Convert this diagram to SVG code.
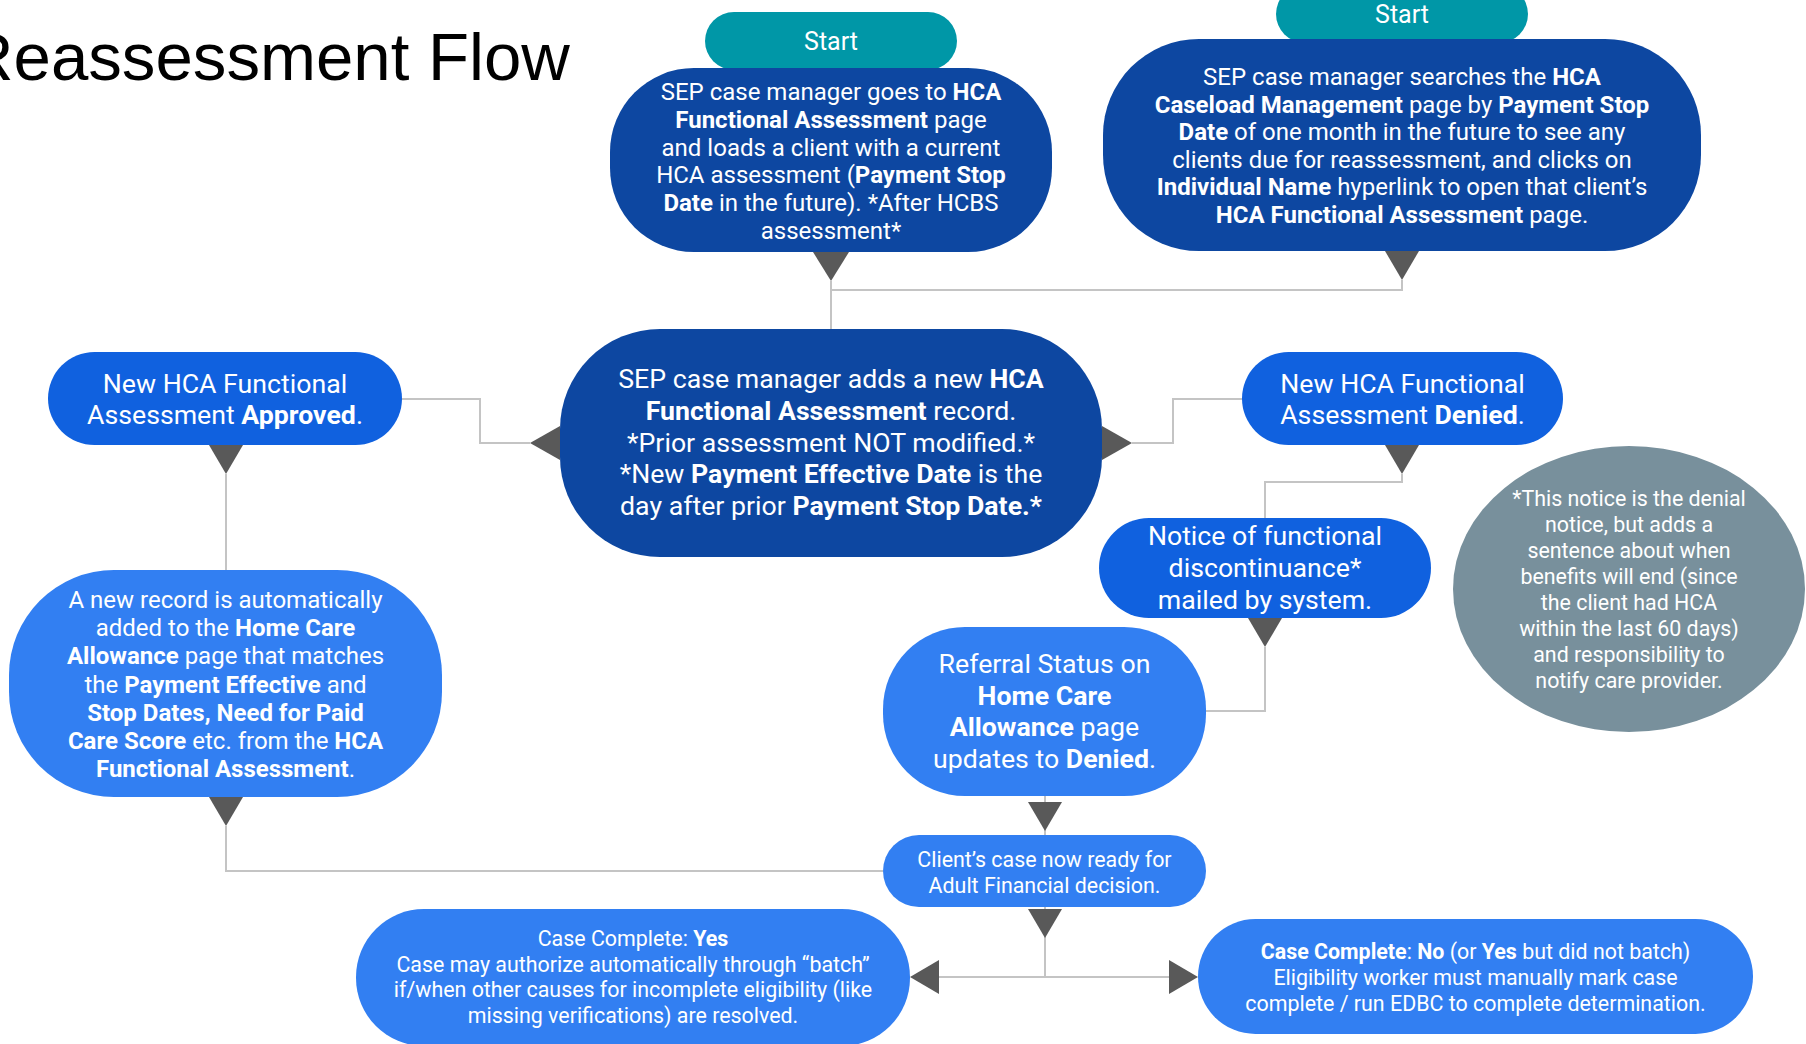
<svg xmlns="http://www.w3.org/2000/svg" width="1806" height="1044" viewBox="0 0 1806 1044">
  <style>
    .t { font-family: Roboto, "Noto Sans", "Liberation Sans", sans-serif; fill: #ffffff; text-anchor: middle; }
    .b { font-weight: 700; }
    .s24 { font-size: 24px; }
    .s27 { font-size: 26.7px; }
    .s21 { font-size: 21.4px; }
    .teal { fill: #0097a7; }
    .dark { fill: #0d47a1; }
    .mid { fill: #1061df; }
    .light { fill: #327ff2; }
    .note { fill: #78909c; }
    .wire { fill: none; stroke: #c4c4c4; stroke-width: 2; }
    .head { fill: #595959; }
  </style>

  <!-- title -->
  <text x="-35" y="80" font-family="'Liberation Sans', Arial, sans-serif" font-size="67.2" fill="#000000">Reassessment Flow</text>

  <!-- connectors -->
  <g id="connectors">
    <polyline class="wire" points="831,281 831,329"/>
    <polyline class="wire" points="831,290 1402,290 1402,280"/>
    <polyline class="wire" points="402,399 480,399 480,443 530,443"/>
    <polyline class="wire" points="1132,443 1173,443 1173,399 1242,399"/>
    <polyline class="wire" points="226,474 226,571"/>
    <polyline class="wire" points="226,826 226,871 883,871"/>
    <polyline class="wire" points="1402,474 1402,482 1265,482 1265,518"/>
    <polyline class="wire" points="1265,647 1265,711 1206,711"/>
    <polyline class="wire" points="1045,796 1045,835"/>
    <polyline class="wire" points="1045,907 1045,977"/>
    <polyline class="wire" points="939,977 1169,977"/>

    <polygon class="head" points="813,252 849,252 831,281"/>
    <polygon class="head" points="1385,251 1419,251 1402,280"/>
    <polygon class="head" points="560,426 560,460 530,443"/>
    <polygon class="head" points="1102,426 1102,460 1132,443"/>
    <polygon class="head" points="209,445 243,445 226,474"/>
    <polygon class="head" points="209,797 243,797 226,826"/>
    <polygon class="head" points="1385,445 1419,445 1402,474"/>
    <polygon class="head" points="1248,618 1282,618 1265,647"/>
    <polygon class="head" points="1028,802 1062,802 1045,831"/>
    <polygon class="head" points="1028,909 1062,909 1045,938"/>
    <polygon class="head" points="939,960 939,994 910,977"/>
    <polygon class="head" points="1169,960 1169,994 1198,977"/>
  </g>

  <!-- start terminals -->
  <g id="start-left">
    <rect class="teal" x="705" y="12" width="252" height="58" rx="29"/>
    <text class="t" x="831" y="50" font-size="25">Start</text>
  </g>
  <g id="start-right">
    <rect class="teal" x="1276" y="-15" width="252" height="58" rx="29"/>
    <text class="t" x="1402" y="23" font-size="25">Start</text>
  </g>

  <!-- entry via functional assessment page -->
  <g id="load-client">
    <rect class="dark" x="610" y="68" width="442" height="184" rx="84"/>
    <text class="t s24" x="831" y="100">SEP case manager goes to <tspan class="b">HCA</tspan></text>
    <text class="t s24" x="831" y="127.8"><tspan class="b">Functional Assessment</tspan> page</text>
    <text class="t s24" x="831" y="155.6">and loads a client with a current</text>
    <text class="t s24" x="831" y="183.4">HCA assessment (<tspan class="b">Payment Stop</tspan></text>
    <text class="t s24" x="831" y="211.2"><tspan class="b">Date</tspan> in the future). *After HCBS</text>
    <text class="t s24" x="831" y="239">assessment*</text>
  </g>

  <!-- entry via caseload search -->
  <g id="caseload-search">
    <rect class="dark" x="1103" y="39" width="598" height="212" rx="96"/>
    <text class="t s24" x="1402" y="85">SEP case manager searches the <tspan class="b">HCA</tspan></text>
    <text class="t s24" x="1402" y="112.6"><tspan class="b">Caseload Management</tspan> page by <tspan class="b">Payment Stop</tspan></text>
    <text class="t s24" x="1402" y="140.2"><tspan class="b">Date</tspan> of one month in the future to see any</text>
    <text class="t s24" x="1402" y="167.8">clients due for reassessment, and clicks on</text>
    <text class="t s24" x="1402" y="195.4"><tspan class="b">Individual Name</tspan> hyperlink to open that client’s</text>
    <text class="t s24" x="1402" y="223"><tspan class="b">HCA Functional Assessment</tspan> page.</text>
  </g>

  <!-- new assessment record -->
  <g id="add-record">
    <rect class="dark" x="560" y="329" width="542" height="228" rx="100"/>
    <text class="t s27" x="831" y="388">SEP case manager adds a new <tspan class="b">HCA</tspan></text>
    <text class="t s27" x="831" y="419.75"><tspan class="b">Functional Assessment</tspan> record.</text>
    <text class="t s27" x="831" y="451.5">*Prior assessment NOT modified.*</text>
    <text class="t s27" x="831" y="483.25">*New <tspan class="b">Payment Effective Date</tspan> is the</text>
    <text class="t s27" x="831" y="515">day after prior <tspan class="b">Payment Stop Date.*</tspan></text>
  </g>

  <g id="approved">
    <rect class="mid" x="48" y="352" width="354" height="93" rx="46.5"/>
    <text class="t s27" x="225" y="393">New HCA Functional</text>
    <text class="t s27" x="225" y="424">Assessment <tspan class="b">Approved</tspan>.</text>
  </g>

  <g id="hca-record">
    <rect class="light" x="9" y="570" width="433" height="227" rx="105"/>
    <text class="t s24" x="225.5" y="608">A new record is automatically</text>
    <text class="t s24" x="225.5" y="636.2">added to the <tspan class="b">Home Care</tspan></text>
    <text class="t s24" x="225.5" y="664.3"><tspan class="b">Allowance</tspan> page that matches</text>
    <text class="t s24" x="225.5" y="692.5">the <tspan class="b">Payment Effective</tspan> and</text>
    <text class="t s24" x="225.5" y="720.7"><tspan class="b">Stop Dates, Need for Paid</tspan></text>
    <text class="t s24" x="225.5" y="748.8"><tspan class="b">Care Score</tspan> etc. from the <tspan class="b">HCA</tspan></text>
    <text class="t s24" x="225.5" y="777"><tspan class="b">Functional Assessment</tspan>.</text>
  </g>

  <g id="denied">
    <rect class="mid" x="1242" y="352" width="321" height="93" rx="46.5"/>
    <text class="t s27" x="1402.5" y="393">New HCA Functional</text>
    <text class="t s27" x="1402.5" y="424">Assessment <tspan class="b">Denied</tspan>.</text>
  </g>

  <g id="notice">
    <rect class="mid" x="1099" y="518" width="332" height="100" rx="50"/>
    <text class="t s27" x="1265" y="545">Notice of functional</text>
    <text class="t s27" x="1265" y="577">discontinuance*</text>
    <text class="t s27" x="1265" y="609">mailed by system.</text>
  </g>

  <g id="notice-remark">
    <ellipse class="note" cx="1629" cy="589" rx="176" ry="143"/>
    <text class="t s21" x="1629" y="506">*This notice is the denial</text>
    <text class="t s21" x="1629" y="532">notice, but adds a</text>
    <text class="t s21" x="1629" y="558">sentence about when</text>
    <text class="t s21" x="1629" y="584">benefits will end (since</text>
    <text class="t s21" x="1629" y="610">the client had HCA</text>
    <text class="t s21" x="1629" y="636">within the last 60 days)</text>
    <text class="t s21" x="1629" y="662">and responsibility to</text>
    <text class="t s21" x="1629" y="688">notify care provider.</text>
  </g>

  <g id="referral-status">
    <rect class="light" x="883" y="627" width="323" height="169" rx="82"/>
    <text class="t s27" x="1044.5" y="673">Referral Status on</text>
    <text class="t s27" x="1044.5" y="704.7"><tspan class="b">Home Care</tspan></text>
    <text class="t s27" x="1044.5" y="736.3"><tspan class="b">Allowance</tspan> page</text>
    <text class="t s27" x="1044.5" y="768">updates to <tspan class="b">Denied</tspan>.</text>
  </g>

  <g id="financial-ready">
    <rect class="light" x="883" y="835" width="323" height="72" rx="36"/>
    <text class="t s21" x="1044.5" y="867">Client’s case now ready for</text>
    <text class="t s21" x="1044.5" y="893">Adult Financial decision.</text>
  </g>

  <g id="case-complete-yes">
    <rect class="light" x="356" y="909" width="554" height="137" rx="68"/>
    <text class="t s21" x="633" y="946">Case Complete: <tspan class="b">Yes</tspan></text>
    <text class="t s21" x="633" y="971.7">Case may authorize automatically through “batch”</text>
    <text class="t s21" x="633" y="997.3">if/when other causes for incomplete eligibility (like</text>
    <text class="t s21" x="633" y="1023">missing verifications) are resolved.</text>
  </g>

  <g id="case-complete-no">
    <rect class="light" x="1198" y="919" width="555" height="115" rx="57.5"/>
    <text class="t s21" x="1475.5" y="959"><tspan class="b">Case Complete</tspan>: <tspan class="b">No</tspan> (or <tspan class="b">Yes</tspan> but did not batch)</text>
    <text class="t s21" x="1475.5" y="985">Eligibility worker must manually mark case</text>
    <text class="t s21" x="1475.5" y="1011">complete / run EDBC to complete determination.</text>
  </g>
</svg>
